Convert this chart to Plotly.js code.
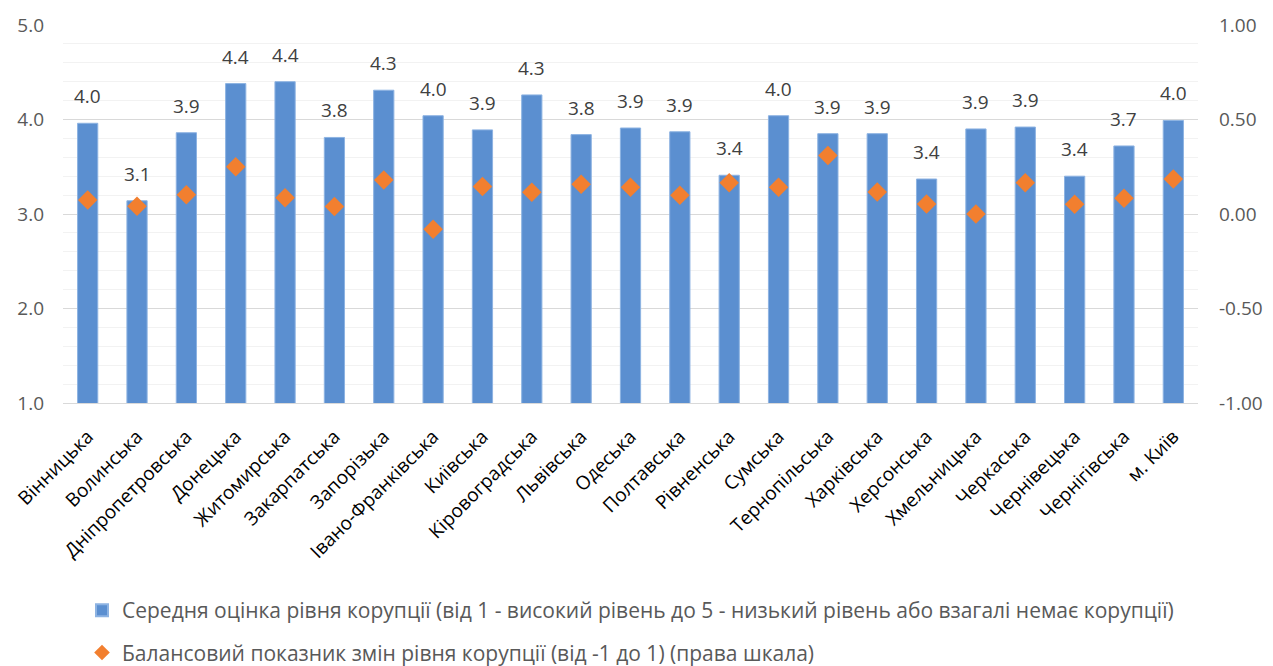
<!DOCTYPE html>
<html>
<head>
<meta charset="utf-8">
<script src="https://cdn.plot.ly/plotly-3.0.1.min.js"></script>
<style>html,body{margin:0;padding:0;background:#fff;}#chart{width:1273px;height:666px;}</style>
</head>
<body>
<div id="chart"></div>
<script>
const regions = ["Вінницька","Волинська","Дніпропетровська","Донецька","Житомирська","Закарпатська","Запорізька","Івано-Франківська","Київська","Кіровоградська","Львівська","Одеська","Полтавська","Рівненська","Сумська","Тернопільська","Харківська","Херсонська","Хмельницька","Черкаська","Чернівецька","Чернігівська","м. Київ"];
const avgScore = [3.96,3.14,3.86,4.38,4.40,3.81,4.31,4.04,3.89,4.26,3.84,3.91,3.87,3.41,4.04,3.85,3.85,3.37,3.90,3.92,3.40,3.72,3.99];
const balance = [0.074,0.041,0.102,0.250,0.086,0.040,0.180,-0.081,0.146,0.115,0.157,0.141,0.099,0.166,0.141,0.310,0.116,0.053,0.000,0.166,0.051,0.083,0.185];
const seriesNames = ["Середня оцінка рівня корупції (від 1 - високий рівень до 5 - низький рівень або взагалі немає корупції)","Балансовий показник змін рівня корупції (від -1 до 1) (права шкала)"];
const leftTickVals = [1,2,3,4,5];
const leftTickText = ["1.0","2.0","3.0","4.0","5.0"];
const rightTickVals = [-1,-0.5,0,0.5,1];
const rightTickText = ["-1.00","-0.50","0.00","0.50","1.00"];

const FONT = "Open Sans, Liberation Sans, sans-serif";

const traces = [
  {type:'bar', x:regions, y:avgScore, name:seriesNames[0], legendgroup:'a',
   marker:{color:'#5B8FD0', line:{color:'#8DB3E2', width:1}}, yaxis:'y', hoverinfo:'x+y'},
  {type:'scatter', mode:'markers', x:regions, y:balance, name:seriesNames[1], legendgroup:'b',
   marker:{symbol:'diamond', size:15, color:'#F27F2F'}, yaxis:'y2', hoverinfo:'x+y'}
];

const annotations = regions.map((r,i)=>({
  x:r, y:avgScore[i], xref:'x', yref:'y', text:avgScore[i].toFixed(1),
  showarrow:false, yanchor:'bottom', yshift:12,
  font:{family:FONT, size:19, color:'#404040'}
}));

const layout = {
  width:1273, height:666,
  margin:{l:63, r:75, t:25, b:263, autoexpand:false},
  paper_bgcolor:'#fff', plot_bgcolor:'#fff',
  bargap:0.59,
  showlegend:true,
  legend:{orientation:'v', x:0.5, xanchor:'center', y:-0.495, yanchor:'top',
          font:{family:FONT, size:21, color:'#595959'}, traceorder:'grouped', tracegroupgap:12,
          itemsizing:'constant', itemwidth:30},
  xaxis:{type:'category', range:[-0.5, regions.length-0.5], automargin:false, tickangle:-45, showline:true, linecolor:'#D9D9D9', linewidth:1,
         ticks:'', ticklabelstandoff:14, tickfont:{family:FONT, size:19, color:'#000'}},
  yaxis:{range:[1,5], tickmode:'array', tickvals:leftTickVals, ticktext:leftTickText, automargin:false, showgrid:true, gridcolor:'#D9D9D9',
         zeroline:false, ticks:'', ticklabelstandoff:18, tickfont:{family:FONT, size:19, color:'#595959'},
         minor:{dtick:0.2, showgrid:true, gridcolor:'#F2F2F2'}},
  yaxis2:{range:[-1,1], tickmode:'array', tickvals:rightTickVals, ticktext:rightTickText, overlaying:'y', side:'right', automargin:false,
          showgrid:false, zeroline:false, ticks:'', ticklabelstandoff:20, tickfont:{family:FONT, size:19, color:'#595959'}},
  annotations:annotations,
  font:{family:FONT}
};

Plotly.newPlot('chart', traces, layout, {displayModeBar:false, staticPlot:true});
</script>
</body>
</html>
